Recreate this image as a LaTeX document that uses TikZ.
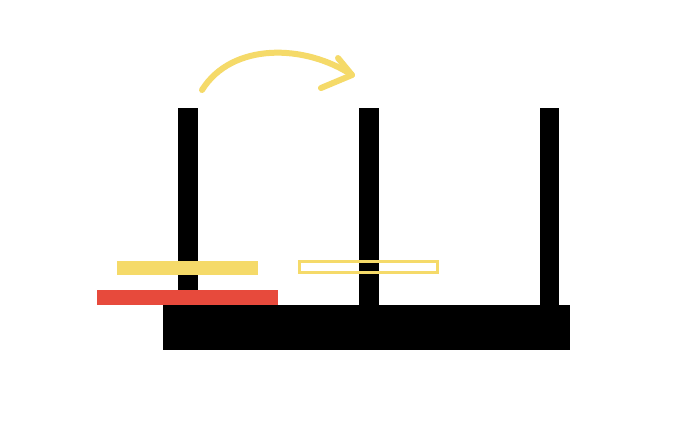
\documentclass[tikz,border=0pt]{standalone}
\definecolor{diskyellow}{RGB}{245,218,105}
\definecolor{diskred}{RGB}{231,74,60}
\begin{document}
\begin{tikzpicture}[x=1pt,y=-1pt,
  peg/.style={fill=black,draw=none},
  arrowline/.style={draw=diskyellow,line width=6pt,line cap=round,line join=round}]
\useasboundingbox (0,0) rectangle (680,421);
\fill[white] (0,0) rectangle (680,421);
% pegs
\path[peg] (178,108) rectangle (198,306);
\path[peg] (359,108) rectangle (379,306);
\path[peg] (540,108) rectangle (559,306);
% base
\path[peg] (163,305) rectangle (570,350);
% disks
\fill[diskyellow] (117,261) rectangle (258,275);
\fill[diskred] (97,290) rectangle (278,305);
\draw[diskyellow,line width=3pt] (299.5,261.5) rectangle (437.5,272.5);
% arrow
\coordinate (a0) at (202,90);
\coordinate (a1) at (352,75);
\draw[arrowline] (a0) .. controls (232,42) and (305,44) .. (a1);
\draw[arrowline] (338,58) -- (a1) -- (321,88);
\end{tikzpicture}
\end{document}
